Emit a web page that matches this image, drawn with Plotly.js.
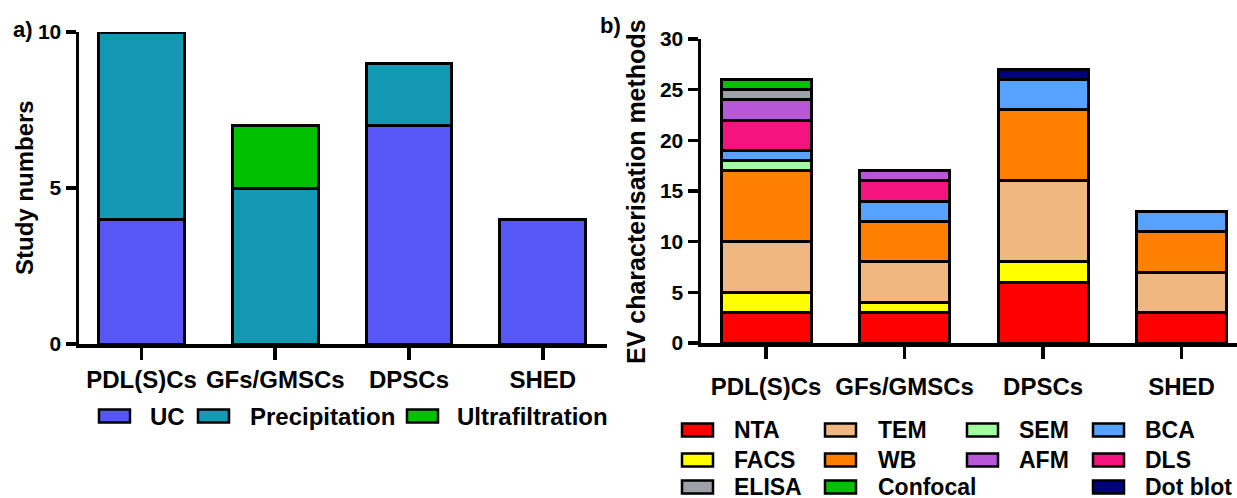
<!DOCTYPE html>
<html>
<head>
<meta charset="utf-8">
<script src="https://cdn.plot.ly/plotly-3.0.1.min.js"></script>
<style>html,body{margin:0;padding:0;background:#fff;}#chart{width:1237px;height:498px;}</style>
</head>
<body>
<div id="chart"></div>
<script>
// ---------- data ----------
const categories = ["PDL(S)Cs", "GFs/GMSCs", "DPSCs", "SHED"];

// panel a) isolation methods (study numbers)
const isolationNames = ["UC", "Precipitation", "Ultrafiltration"];
const ucStudies = [4, null, 7, 4];
const precipitationStudies = [6, 5, 2, null];
const ultrafiltrationStudies = [null, 2, null, null];

// panel b) EV characterisation methods (stack order bottom -> top)
const ntaCounts      = [3, 3, 6, 3];
const facsCounts     = [2, 1, 2, null];
const temCounts      = [5, 4, 8, 4];
const wbCounts       = [7, 4, 7, 4];
const semCounts      = [1, null, null, null];
const bcaCounts      = [1, 2, 3, 2];
const dlsCounts      = [3, 2, null, null];
const afmCounts      = [2, 1, null, null];
const elisaCounts    = [1, null, null, null];
const confocalCounts = [1, null, null, null];
const dotBlotCounts  = [null, null, 1, null];

const yTicksA = [0, 5, 10];
const yTicksB = [0, 5, 10, 15, 20, 25, 30];

// ---------- styling ----------
const W = 1237, H = 498;
const FONT = "Liberation Sans, Arial, Helvetica, sans-serif";
const px = x => x / W;
const py = y => 1 - y / H;

const colA = {"UC": "#5757F8", "Precipitation": "#1399B3", "Ultrafiltration": "#00C000"};
const seriesB = [
  ["NTA", ntaCounts, "#FF0000"],
  ["FACS", facsCounts, "#FFFF00"],
  ["TEM", temCounts, "#F0B880"],
  ["WB", wbCounts, "#FF8000"],
  ["SEM", semCounts, "#A0FFA0"],
  ["BCA", bcaCounts, "#55A2FF"],
  ["DLS", dlsCounts, "#F5147F"],
  ["AFM", afmCounts, "#B858D8"],
  ["ELISA", elisaCounts, "#A0A0A8"],
  ["Confocal", confocalCounts, "#00C000"],
  ["Dot blot", dotBlotCounts, "#000080"]
];
const colorB = {};
seriesB.forEach(s => colorB[s[0]] = s[2]);

const lineStyle = {color: "#000", width: 3};
const traces = [];
[[isolationNames[0], ucStudies], [isolationNames[1], precipitationStudies], [isolationNames[2], ultrafiltrationStudies]]
  .forEach(([name, vals]) => traces.push({
    type: "bar", x: categories, y: vals, name: name, xaxis: "x", yaxis: "y",
    width: 0.64, showlegend: false,
    marker: {color: colA[name], line: lineStyle}
  }));
seriesB.forEach(([name, vals, c]) => traces.push({
  type: "bar", x: categories, y: vals, name: name, xaxis: "x2", yaxis: "y2",
  width: 0.65, showlegend: false,
  marker: {color: c, line: lineStyle}
}));

const axisCommon = {
  showline: true, linewidth: 3.5, linecolor: "#000", showgrid: false, zeroline: false,
  ticks: "outside", tickwidth: 3.5, tickcolor: "#000", fixedrange: true
};

const shapes = [];
const annotations = [];
function txt(x, y, t, size, opts) {
  annotations.push(Object.assign({
    xref: "paper", yref: "paper", x: px(x), y: py(y), text: "<b>" + t + "</b>", showarrow: false,
    xanchor: "left", yanchor: "middle", font: {family: FONT, size: size, color: "#000"}
  }, opts || {}));
}
function swatch(x, y, c) {
  shapes.push({type: "rect", xref: "paper", yref: "paper",
    x0: px(x), x1: px(x + 31), y0: py(y + 6.5), y1: py(y - 6.5),
    fillcolor: c, line: {color: "#000", width: 2.5}});
}

// panel labels and axis titles
txt(11, 30, "a)", 22);
txt(598, 26, "b)", 22);
txt(24, 188, "Study numbers", 24, {xanchor: "center", textangle: -90});
txt(636, 191, "EV characterisation methods", 25, {xanchor: "center", textangle: -90});

// legend a
const legAx = [[99, 148], [198, 248], [407, 455]];
isolationNames.forEach((n, i) => { swatch(legAx[i][0], 416, colA[n]); txt(legAx[i][1], 416, n, 24); });

// legend b (column-major grid)
const legendGridB = [["NTA", "FACS", "ELISA"], ["TEM", "WB", "Confocal"], ["SEM", "AFM"], ["BCA", "DLS", "Dot blot"]];
const colX = [[682, 732], [825, 876], [967, 1017], [1093, 1143]];
const rowY = [430, 460, 487];
legendGridB.forEach((col, ci) => col.forEach((n, ri) => {
  swatch(colX[ci][0], rowY[ri], colorB[n]);
  txt(colX[ci][1], rowY[ri], n, 23);
}));

const layout = {
  width: W, height: H, margin: {l: 0, r: 0, t: 0, b: 0},
  paper_bgcolor: "#fff", plot_bgcolor: "rgba(0,0,0,0)",
  barmode: "stack", showlegend: false,
  font: {family: FONT, color: "#000"},
  xaxis: Object.assign({}, axisCommon, {
    domain: [px(79), px(607)], range: [-0.467, 3.48], anchor: "y",
    ticklen: 12, tickfont: {family: FONT, size: 24, weight: 700}
  }),
  yaxis: Object.assign({}, axisCommon, {
    domain: [py(344), py(32)], range: [0, 10], anchor: "x",
    tickvals: yTicksA, ticklen: 10, tickfont: {family: FONT, size: 21, weight: 700}
  }),
  xaxis2: Object.assign({}, axisCommon, {
    domain: [px(701), 1], range: [-0.47, 3.4], anchor: "y2",
    ticklen: 12, ticklabelstandoff: 8, tickfont: {family: FONT, size: 24, weight: 700}
  }),
  yaxis2: Object.assign({}, axisCommon, {
    domain: [py(343), py(39)], range: [0, 30], anchor: "x2",
    tickvals: yTicksB, ticklen: 10, tickfont: {family: FONT, size: 21, weight: 700}
  }),
  shapes: shapes,
  annotations: annotations
};

Plotly.newPlot("chart", traces, layout, {staticPlot: true, displayModeBar: false});
</script>
</body>
</html>
